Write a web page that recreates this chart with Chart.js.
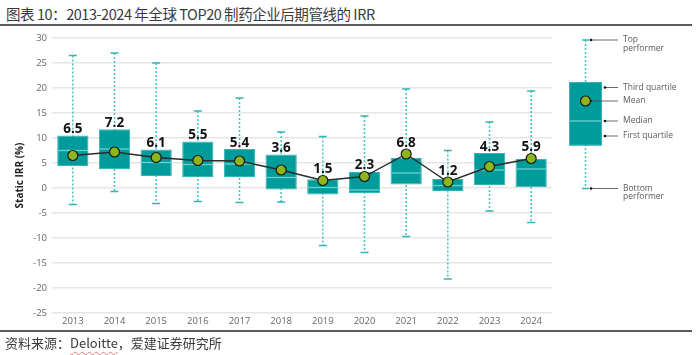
<!DOCTYPE html>
<html>
<head>
<meta charset="utf-8">
<script src="https://cdn.jsdelivr.net/npm/chart.js@4/dist/chart.umd.min.js"></script>
<style>
  html,body{margin:0;padding:0;background:#fff;}
  body{width:700px;height:355px;position:relative;overflow:hidden;font-family:"Noto Sans CJK SC","Noto Sans",sans-serif;}
  #title{position:absolute;left:6px;top:3px;font-size:14.5px;color:#3a3a3a;white-space:nowrap;letter-spacing:-0.45px;}
  #tline{position:absolute;left:0;top:24px;width:692px;height:2px;background:#5a5a5a;}
  #bline{position:absolute;left:0;top:330px;width:692px;height:1.5px;background:#5a5a5a;}
  #src{position:absolute;left:5px;top:333px;font-size:13px;color:#3a3a3a;white-space:nowrap;}
  #src .d{text-decoration:underline wavy #e07a7a;text-decoration-thickness:1px;text-underline-offset:3px;}
  #wrap{position:absolute;left:0;top:0;width:700px;height:355px;}
</style>
</head>
<body>
<div id="title">图表 10：2013-2024 年全球 TOP20 制药企业后期管线的 IRR</div>
<div id="tline"></div>
<div id="wrap"><canvas id="c"></canvas></div>
<div id="bline"></div>
<div id="src">资料来源：<span class="d">Deloitte</span>，爱建证券研究所</div>
<script>
const categories = ['2013','2014','2015','2016','2017','2018','2019','2020','2021','2022','2023','2024'];
const topPerformer = [26.5, 27.0, 25.0, 15.4, 18.0, 11.2, 10.3, 14.4, 19.8, 7.5, 13.2, 19.4];
const thirdQuartile = [10.5, 11.75, 7.7, 9.3, 7.8, 6.7, 1.75, 3.2, 6.0, 1.8, 7.0, 5.8];
const medianValues = [7.5, 7.8, 5.1, 4.7, 4.8, 2.1, 0.1, -0.4, 3.0, 0.5, 3.6, 3.8];
const firstQuartile = [4.4, 3.8, 2.4, 2.2, 2.2, -0.3, -1.3, -1.0, 0.7, -0.6, 0.6, 0.0];
const bottomPerformer = [-3.3, -0.7, -3.1, -2.7, -2.9, -2.8, -11.5, -12.9, -9.7, -18.2, -4.6, -6.9];
const meanValues = [6.5, 7.2, 6.1, 5.5, 5.4, 3.6, 1.5, 2.3, 6.8, 1.2, 4.3, 5.9];
const meanLabels = ['6.5','7.2','6.1','5.5','5.4','3.6','1.5','2.3','6.8','1.2','4.3','5.9'];
const yMin = -25, yMax = 30, yStep = 5;

// key (legend) box, in axis units
const keyBox = {top: 29.6, q3: 21.2, median: 13.4, q1: 8.5, bottom: -0.1, mean: 17.4};
const keyLabels = [
  {lines:['Top','performer'], at: 29.6, from: 'top'},
  {lines:['Third quartile'], at: 20.1, from: 'box'},
  {lines:['Mean'], at: 17.4, from: 'mean'},
  {lines:['Median'], at: 13.4, from: 'box'},
  {lines:['First quartile'], at: 10.4, from: 'box'},
  {lines:['Bottom','performer'], at: -0.1, from: 'top'}
];

const TEAL = '#009c9c';
const WHISK = '#45c3c3';
const MED = '#6fd0cf';

const boxPlugin = {
  id: 'boxPlugin',
  beforeDatasetsDraw(chart) {
    const ctx = chart.ctx, y = chart.scales.y, x = chart.scales.x;
    ctx.save();
    categories.forEach((c, i) => {
      const px = x.getPixelForValue(i);
      const yt = y.getPixelForValue(topPerformer[i]);
      const yb = y.getPixelForValue(bottomPerformer[i]);
      ctx.strokeStyle = WHISK;
      ctx.lineWidth = 1.5;
      ctx.setLineDash([2, 2]);
      ctx.beginPath(); ctx.moveTo(px, yt); ctx.lineTo(px, yb); ctx.stroke();
      ctx.setLineDash([]);
      ctx.strokeStyle = '#2fb5b5';
      ctx.beginPath();
      ctx.moveTo(px - 4, yt); ctx.lineTo(px + 4, yt);
      ctx.moveTo(px - 4, yb); ctx.lineTo(px + 4, yb);
      ctx.stroke();
    });
    ctx.restore();
  },
  afterDatasetDraw(chart, args) {
    if (args.meta.type !== 'bar') return;
    const ctx = chart.ctx, y = chart.scales.y;
    ctx.save();
    ctx.strokeStyle = MED;
    ctx.lineWidth = 1.3;
    args.meta.data.forEach((bar, i) => {
      const py = y.getPixelForValue(medianValues[i]);
      ctx.beginPath();
      ctx.moveTo(bar.x - bar.width / 2 + 1, py);
      ctx.lineTo(bar.x + bar.width / 2 - 1, py);
      ctx.stroke();
    });
    ctx.restore();
  },
  afterDatasetsDraw(chart) {
    const ctx = chart.ctx, y = chart.scales.y, x = chart.scales.x;
    const area = chart.chartArea;
    ctx.save();
    // mean labels
    ctx.font = 'bold 13.5px "Open Sans"';
    ctx.fillStyle = '#111';
    ctx.textAlign = 'center';
    ctx.textBaseline = 'alphabetic';
    categories.forEach((c, i) => {
      const px = x.getPixelForValue(i);
      const top = Math.min(y.getPixelForValue(thirdQuartile[i]), y.getPixelForValue(meanValues[i]) - 5);
      ctx.fillText(meanLabels[i], px, top - 2.5);
    });

    // key
    const bw = x.getPixelForValue(1) - x.getPixelForValue(0);
    const w = bw * 0.79;
    const cx = area.right + 33.5;
    const ky = v => y.getPixelForValue(v);
    ctx.strokeStyle = WHISK; ctx.lineWidth = 1.5; ctx.setLineDash([2, 2]);
    ctx.beginPath(); ctx.moveTo(cx, ky(keyBox.top)); ctx.lineTo(cx, ky(keyBox.bottom)); ctx.stroke();
    ctx.setLineDash([]);
    ctx.strokeStyle = '#2fb5b5';
    ctx.beginPath();
    ctx.moveTo(cx - 3.5, ky(keyBox.top)); ctx.lineTo(cx + 3.5, ky(keyBox.top));
    ctx.moveTo(cx - 3.5, ky(keyBox.bottom)); ctx.lineTo(cx + 3.5, ky(keyBox.bottom));
    ctx.stroke();
    ctx.fillStyle = TEAL;
    ctx.fillRect(cx - w / 2, ky(keyBox.q3), w, ky(keyBox.q1) - ky(keyBox.q3));
    ctx.strokeStyle = '#35b4b4'; ctx.lineWidth = 1;
    ctx.strokeRect(cx - w / 2 + 0.5, ky(keyBox.q3) + 0.5, w - 1, ky(keyBox.q1) - ky(keyBox.q3) - 1);
    ctx.strokeStyle = MED; ctx.lineWidth = 1.3;
    ctx.beginPath(); ctx.moveTo(cx - w / 2 + 1, ky(keyBox.median)); ctx.lineTo(cx + w / 2 - 1, ky(keyBox.median)); ctx.stroke();

    const lineEnd = cx + 32.5;
    ctx.font = '8.5px "Open Sans"';
    ctx.textAlign = 'left';
    ctx.textBaseline = 'middle';
    keyLabels.forEach(k => {
      const py = ky(k.at);
      let start;
      if (k.from === 'top') start = cx + 5.5;
      else if (k.from === 'mean') start = cx + 5;
      else start = cx + w / 2 + 3;
      ctx.strokeStyle = '#444'; ctx.lineWidth = 0.8;
      ctx.beginPath(); ctx.moveTo(start, py); ctx.lineTo(lineEnd, py); ctx.stroke();
      ctx.fillStyle = '#111';
      ctx.beginPath(); ctx.arc(start, py, 1.3, 0, Math.PI * 2); ctx.fill();
      ctx.fillStyle = '#5a5a5a';
      k.lines.forEach((t, j) => ctx.fillText(t, lineEnd + 5, py + j * 8.5));
    });
    // key mean marker
    ctx.beginPath(); ctx.arc(cx, ky(keyBox.mean), 5, 0, Math.PI * 2);
    ctx.fillStyle = '#8fb51d'; ctx.fill();
    ctx.strokeStyle = '#1a1a1a'; ctx.lineWidth = 1.2; ctx.stroke();
    ctx.restore();
  }
};

new Chart(document.getElementById('c'), {
  type: 'bar',
  data: {
    labels: categories,
    datasets: [
      {
        type: 'line',
        data: meanValues,
        borderColor: '#2a2a2a',
        borderWidth: 1.4,
        pointRadius: 5,
        pointBackgroundColor: '#8fb51d',
        pointBorderColor: '#1a1a1a',
        pointBorderWidth: 1.2,
        tension: 0,
        order: 0
      },
      {
        type: 'bar',
        data: firstQuartile.map((v, i) => [v, thirdQuartile[i]]),
        backgroundColor: TEAL,
        borderColor: '#35b4b4',
        borderWidth: 1,
        borderSkipped: false,
        categoryPercentage: 1,
        barPercentage: 0.75,
        order: 1
      }
    ]
  },
  options: {
    responsive: true,
    maintainAspectRatio: false,
    animation: false,
    layout: {padding: {left: 14, right: 148, top: 38, bottom: 22}},
    plugins: {legend: {display: false}, tooltip: {enabled: false}},
    scales: {
      x: {
        grid: {display: false, drawTicks: false},
        border: {display: false},
        ticks: {color: '#666', font: {family: 'Open Sans', size: 9.5}, padding: 3},
        afterFit(s) { s.height = 20; }
      },
      y: {
        min: yMin, max: yMax,
        grid: {color: '#e6e6e6', lineWidth: 1.5, drawTicks: false},
        border: {display: false},
        ticks: {stepSize: yStep, autoSkip: false, color: '#666', font: {family: 'Open Sans', size: 9.5}, padding: 5},
        title: {display: true, text: 'Static IRR (%)', color: '#222', font: {family: 'Open Sans', size: 10, weight: 'bold'}, padding: {top: 0, bottom: 2}},
        afterFit(s) { s.width = 38; }
      }
    }
  },
  plugins: [boxPlugin]
});
</script>
</body>
</html>
